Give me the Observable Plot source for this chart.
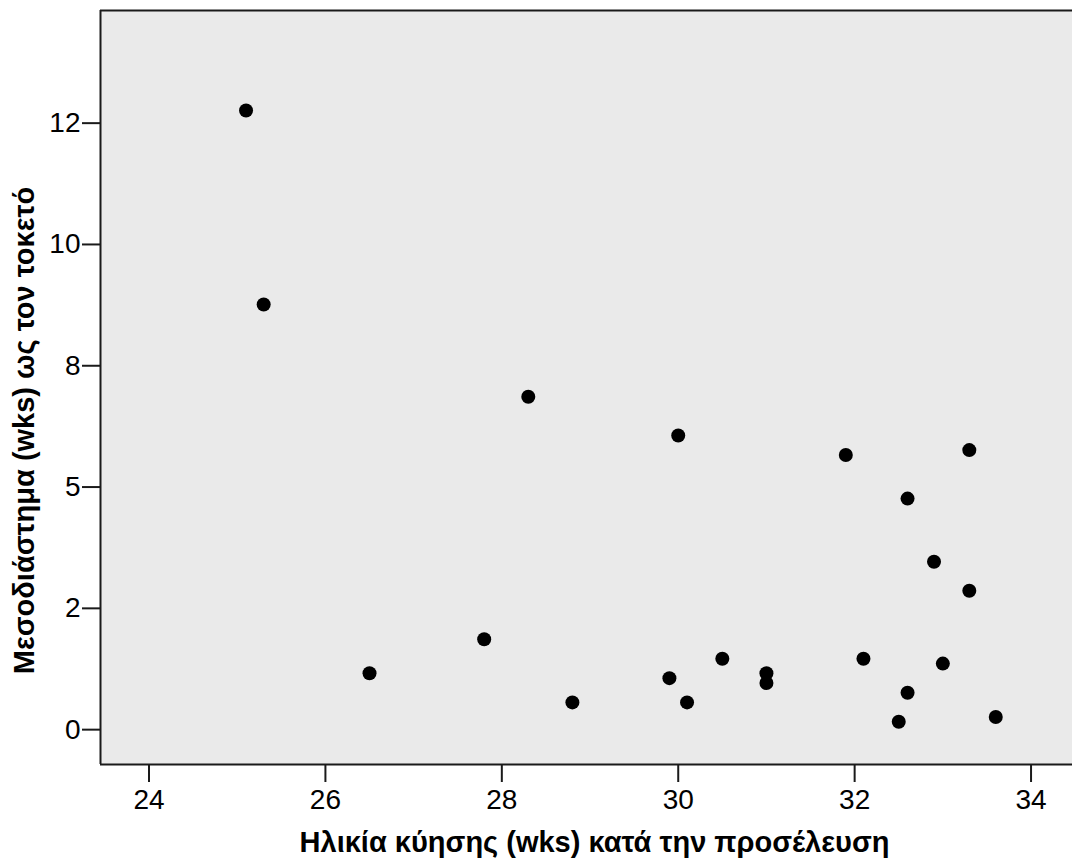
<!DOCTYPE html>
<html>
<head>
<meta charset="utf-8">
<script src="https://cdn.jsdelivr.net/npm/d3@7"></script>
<script src="https://cdn.jsdelivr.net/npm/@observablehq/plot@0.6"></script>
<style>
  html, body { margin: 0; padding: 0; background: #ffffff; }
  #chart svg { display: block; }
</style>
</head>
<body>
<div id="chart"></div>
<script>
// Gestational age at presentation (weeks) and interval to delivery (weeks), one entry per patient
const gestAgeAtPresentation = [25.1, 25.3, 28.3, 30.0, 31.9, 33.3, 32.6, 32.9, 33.3, 27.8, 26.5,
                               28.8, 29.9, 30.1, 30.5, 31.0, 31.0, 32.1, 33.0, 32.6, 32.5, 33.6];
const intervalToDelivery    = [12.7, 8.7, 6.8, 6.0, 5.6, 5.7, 4.7, 3.4, 2.8, 1.8, 1.1,
                               0.5, 1.0, 0.5, 1.4, 1.1, 0.9, 1.4, 1.3, 0.7, 0.1, 0.2];

// Axis ticks and their printed labels (y labels are rounded to whole weeks)
const xTicks = [24, 26, 28, 30, 32, 34];
const yTicks = [0, 2.5, 5, 7.5, 10, 12.5];
const yTickLabels = ["0", "2", "5", "8", "10", "12"];

const xTitle = "Ηλικία κύησης (wks) κατά την προσέλευση";
const yTitle = "Μεσοδιάστημα (wks) ως τον τοκετό";

const xDomain = [23.45, 34.47];
const yDomain = [-0.78, 14.76];

const rows = gestAgeAtPresentation.map((g, i) => ({ge: g, interval: intervalToDelivery[i]}));

const font = "'Liberation Sans', Arial, sans-serif";
const ink = "#1a1a1a";

const chart = Plot.plot({
  width: 1072,
  height: 862,
  marginLeft: 100,
  marginRight: 0,
  marginTop: 10,
  marginBottom: 98,
  style: {fontFamily: font, fontSize: "28px", color: "#000", background: "#ffffff"},
  x: {domain: xDomain},
  y: {domain: yDomain},
  marks: [
    Plot.frame({fill: "#eaeaea", stroke: null}),
    Plot.axisX({
      ticks: xTicks, tickSize: 18, tickPadding: 7, tickFormat: d => String(d),
      fontSize: 28, stroke: ink, strokeWidth: 2, fill: "#000", label: null
    }),
    Plot.axisY({
      ticks: yTicks, tickSize: 18, tickPadding: 2,
      tickFormat: d => yTickLabels[yTicks.indexOf(d)],
      fontSize: 28, stroke: ink, strokeWidth: 2, fill: "#000", label: null, dy: 3
    }),
    // open frame: left, top and bottom borders
    Plot.ruleX([xDomain[0]], {stroke: ink, strokeWidth: 2}),
    Plot.ruleY([yDomain[0], yDomain[1]], {stroke: ink, strokeWidth: 2}),
    Plot.dot(rows, {x: "ge", y: "interval", r: 7, fill: "#000", stroke: null}),
    Plot.text([xTitle], {
      frameAnchor: "bottom", lineAnchor: "middle", textAnchor: "middle",
      text: d => d, dy: 78, dx: 8,
      fontSize: 29, fontWeight: "bold", fill: "#000"
    }),
    Plot.text([yTitle], {
      frameAnchor: "left", lineAnchor: "middle", textAnchor: "middle",
      text: d => d, rotate: -90, dx: -76, dy: 43,
      fontSize: 29, fontWeight: "bold", fill: "#000"
    })
  ]
});

document.getElementById("chart").appendChild(chart);
</script>
</body>
</html>
